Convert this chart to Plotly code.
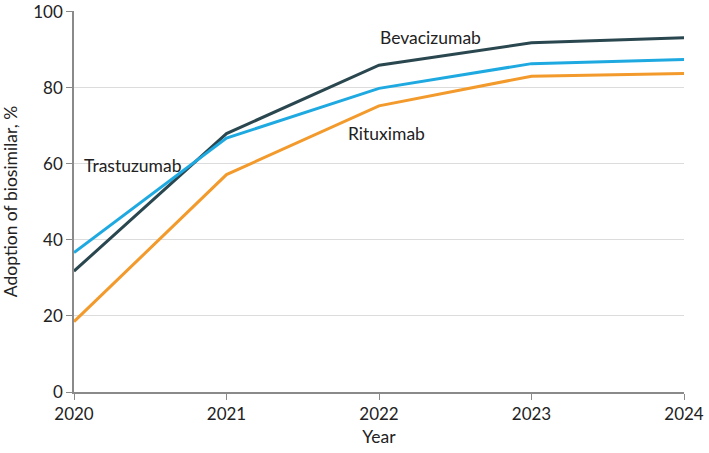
import plotly.graph_objects as go

years = [2020, 2021, 2022, 2023, 2024]
bevacizumab = [31.8, 68.0, 86.0, 91.9, 93.2]
trastuzumab = [36.7, 66.8, 79.9, 86.4, 87.5]
rituximab = [18.5, 57.2, 75.3, 83.1, 83.8]
y_ticks = [0, 20, 40, 60, 80, 100]

series = [
    ("Bevacizumab", bevacizumab, "#2a4750"),
    ("Trastuzumab", trastuzumab, "#1fa9e1"),
    ("Rituximab", rituximab, "#f39a2c"),
]

FONT = "Lato, Roboto, sans-serif"

fig = go.Figure()
for name, vals, color in series:
    fig.add_trace(go.Scatter(x=years, y=vals, mode="lines", name=name,
                             line=dict(color=color, width=3), showlegend=False,
                             hoverinfo="skip"))

labels = [
    ("Trastuzumab", 2020.39, 59.6),
    ("Bevacizumab", 2022.34, 93.3),
    ("Rituximab", 2022.05, 68.0),
]
for text, x, y in labels:
    fig.add_annotation(x=x, y=y, text=text, showarrow=False,
                       font=dict(size=17.5, color="#222222", family=FONT))

fig.update_layout(
    width=709, height=453,
    margin=dict(l=74, r=25, t=11, b=61),
    plot_bgcolor="white", paper_bgcolor="white",
    font=dict(family=FONT, size=16, color="#222222"),
)
fig.update_xaxes(range=[2020, 2024], tickvals=years, ticktext=[str(y) for y in years],
                 showgrid=False, showline=True, linecolor="#8a8a8a", linewidth=1.5,
                 ticks="outside", ticklen=6, tickcolor="#8a8a8a",
                 title=dict(text="Year", standoff=8, font=dict(size=17.5)), zeroline=False,
                 tickfont=dict(size=17), automargin=False)
fig.update_yaxes(range=[0, 100.25], tickvals=y_ticks,
                 showgrid=True, gridcolor="#dcdcdc", gridwidth=1.2,
                 showline=True, linecolor="#8a8a8a", linewidth=1.5,
                 ticks="outside", ticklen=6, tickcolor="#8a8a8a",
                 title=dict(text="Adoption of biosimilar, %", standoff=17, font=dict(size=17.5)),
                 zeroline=False, tickfont=dict(size=17), automargin=False)

fig.write_html("out.html", config={"displayModeBar": False},
               post_script="document.body.style.margin='0';")
